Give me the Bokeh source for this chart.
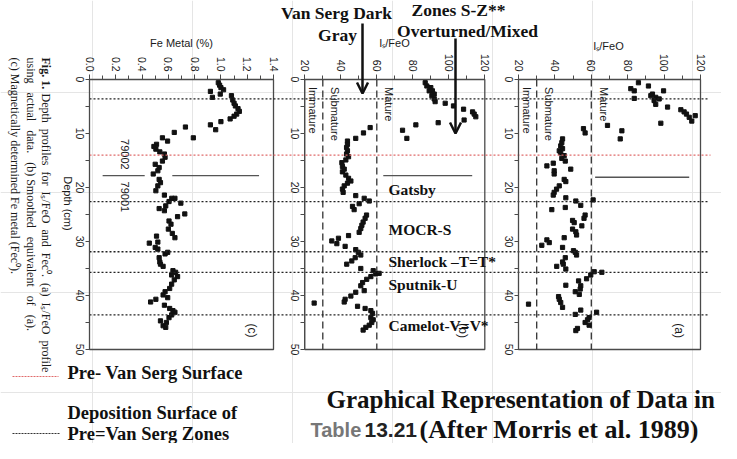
from math import pi
from bokeh.plotting import figure
from bokeh.models import Range1d, LinearAxis, FixedTicker, Arrow, OpenHead, PrintfTickFormatter
from bokeh.core.properties import value
from bokeh.embed import file_html
from bokeh.resources import INLINE

# ---------------- data ----------------
# Panel (c): Fe metal (%) vs depth (cm)
fe_metal = [0.98, 0.99, 1.00, 1.02, 0.92, 0.995, 0.935, 1.08, 1.09, 1.10, 1.11, 1.13, 1.14, 1.12, 1.10,
            1.07, 1.00, 0.92, 0.96, 0.73, 0.645, 0.79, 0.555, 0.594, 0.51, 0.49, 0.505, 0.535, 0.57,
            0.575, 0.555, 0.50, 0.53, 0.52, 0.485, 0.53, 0.54, 0.52, 0.505, 0.57, 0.626, 0.65, 0.605,
            0.695, 0.58, 0.53, 0.57, 0.725, 0.67, 0.605, 0.62, 0.60, 0.63, 0.65, 0.51, 0.455, 0.52,
            0.50, 0.52, 0.595, 0.575, 0.53, 0.535, 0.54, 0.56, 0.635, 0.655, 0.625, 0.67, 0.645, 0.625,
            0.61, 0.575, 0.56, 0.595, 0.505, 0.465, 0.57, 0.61, 0.635, 0.65, 0.625, 0.605, 0.54, 0.585,
            0.56, 0.58]
fe_depth = [0.6, 1.05, 1.5, 1.9, 2.2, 2.7, 3.3, 3.0, 3.8, 4.4, 4.9, 5.4, 5.9, 6.4, 6.8,
            7.3, 7.8, 8.4, 9.3, 8.8, 9.8, 10.8, 10.8, 11.4, 12.0, 12.4, 12.9, 13.4, 13.8,
            14.4, 15.1, 15.7, 16.3, 16.9, 17.5, 18.5, 19.1, 19.7, 20.6, 21.4, 22.0, 22.0, 22.6,
            22.9, 23.4, 23.9, 24.3, 24.9, 25.4, 26.2, 26.8, 27.7, 28.5, 29.3, 29.0, 30.3, 30.1,
            31.1, 31.4, 32.0, 32.3, 33.0, 33.8, 34.2, 34.6, 35.4, 35.7, 36.2, 36.5, 37.1, 37.9,
            38.7, 39.3, 39.9, 40.4, 40.7, 41.2, 41.8, 42.4, 42.8, 43.1, 43.6, 44.1, 44.7, 45.0,
            45.6, 45.9]

# Panel (b): smoothed Is/FeO vs depth
isb_val = [86.9, 87.8, 90.0, 90.9, 89.1, 91.9, 90.6, 91.9, 92.4, 98.0, 102.6, 108.2, 113.2, 114.1,
           115.0, 108.5, 94.1, 81.7, 74.3, 76.7,
           56.3, 52.6, 48.3, 43.7, 43.7, 43.2, 43.7, 43.2, 44.3, 42.8, 40.6, 40.9, 41.9, 40.9, 42.8,
           44.3, 45.6, 43.7, 41.9, 40.9, 41.3, 48.3, 53.0, 55.8, 50.2, 46.5, 47.4,
           54.3, 53.5, 52.4, 51.7, 51.1, 50.2, 44.3, 38.7, 35.0, 37.8, 42.4, 48.3, 49.7, 51.1, 48.0,
           46.1, 43.3, 51.1, 58.0, 61.3, 59.4, 56.7, 54.4, 52.1, 51.1, 53.0, 48.3, 45.6, 42.4, 41.9,
           25.2, 49.3, 53.5, 56.7, 57.6, 56.7, 58.0, 57.2, 55.8, 53.9, 52.4]
isb_depth = [0.6, 1.2, 1.5, 2.1, 2.1, 2.7, 3.0, 3.6, 4.1, 4.4, 4.9, 5.5, 6.0, 6.4,
             6.9, 7.5, 8.0, 8.4, 9.4, 10.9,
             8.9, 9.9, 10.9, 11.4, 12.0, 12.6, 13.2, 13.8, 14.3, 14.9, 15.4, 16.1, 16.6, 17.1, 17.7,
             18.3, 18.8, 19.2, 19.7, 20.3, 20.9, 21.5, 22.0, 22.5, 23.0, 23.5, 24.1,
             25.1, 25.7, 26.4, 27.0, 27.6, 28.3, 28.9, 29.4, 29.9, 30.4, 30.9, 31.5, 32.0, 32.5, 33.0,
             33.6, 34.2, 35.0, 35.4, 35.9, 36.0, 36.5, 37.0, 37.6, 38.2, 39.1, 39.4, 40.1, 40.7, 41.2,
             41.4, 42.0, 42.4, 42.8, 43.3, 44.1, 44.5, 45.0, 45.5, 45.9, 46.4]

# Panel (a): actual Is/FeO vs depth
isa_val = [85.9, 91.4, 81.7, 83.6, 99.7, 83.6, 92.7, 93.6, 95.4, 97.3, 94.5, 95.4, 101.9, 109.2,
           111.0, 112.3, 117.1, 113.8, 115.2, 98.2, 68.9, 76.8, 75.9, 55.7, 56.6,
           44.2, 43.8, 43.2, 44.2, 42.4, 43.2, 45.1, 43.8, 45.7, 39.1, 35.6, 48.7, 39.6, 39.6, 45.1,
           46.0, 42.4, 40.9, 39.6, 39.1, 46.0, 61.0, 51.5, 54.2, 45.7, 38.3, 56.6, 56.0, 49.7, 50.6,
           54.8, 49.7, 51.5, 51.9, 45.1, 35.6, 36.9, 32.8, 44.2, 50.2, 51.2, 51.9, 45.7, 44.2, 44.6,
           41.0, 46.0, 61.6, 65.8, 59.7, 57.4, 53.0, 46.0, 54.2, 53.9, 51.2, 53.4, 42.0, 42.4, 43.2,
           25.5, 44.2, 54.2, 62.9, 51.2, 58.8, 57.9, 56.6, 58.8, 52.4, 51.5]
isa_depth = [0.6, 1.2, 1.7, 2.1, 2.1, 3.5, 3.0, 2.7, 3.3, 3.6, 3.9, 4.6, 5.1, 5.6,
             6.0, 6.4, 6.7, 7.0, 7.7, 8.1, 8.5, 9.5, 11.0, 9.1, 9.9,
             11.0, 11.7, 12.3, 12.8, 13.2, 13.6, 14.1, 14.6, 15.1, 15.5, 16.0, 16.6, 16.9, 17.5, 18.5,
             18.9, 19.7, 20.3, 20.9, 21.4, 21.9, 22.3, 22.5, 23.3, 23.7, 24.1, 25.1, 25.7, 26.1, 26.5,
             27.1, 27.7, 28.2, 28.8, 29.3, 29.7, 30.2, 30.7, 31.1, 31.7, 32.0, 32.5, 33.0, 33.8, 34.2,
             34.6, 35.1, 35.6, 35.7, 36.2, 36.9, 37.3, 38.1, 38.2, 38.8, 39.3, 39.8, 40.2, 40.7, 41.3,
             41.6, 42.2, 42.7, 43.1, 43.5, 44.1, 44.5, 45.0, 45.5, 46.1, 46.5]

zone_depths = [3.6, 22.6, 31.9, 35.7, 43.6]        # deposition surfaces of pre-Van Serg zones
van_serg_surface = [14.0]                            # pre-Van Serg surface
core_boundary = 17.8                                 # 79002 / 79001 boundary
maturity_limits = [30, 60]
maturity_names = ["Immature", "Submature", "Mature"]
zone_names = ["Gatsby", "MOCR-S", "Sherlock \u2013T=T*", "Sputnik-U", "Camelot-V=V*"]
zone_label_depths = [20.4, 27.8, 33.7, 38.0, 45.6]

fe_ticks = [0.0, 0.2, 0.4, 0.6, 0.8, 1.0, 1.2, 1.4]
is_ticks = [20, 40, 60, 80, 100, 120]
depth_ticks = [0, 10, 20, 30, 40, 50]

# ---------------- layout ----------------
W, H = 721, 443
PX0, PX1, PY0, PY1 = 8, 729, 8, 451   # screen pixel extent of the figure
D0_Y, D_SCALE = 87, 5.4               # depth 0 at y=87, 5.4 px / cm


def lin_range(p0, v0, p1, v1):
    s = (p1 - p0) / (v1 - v0)
    return Range1d(start=v0 + (PX0 - p0) / s, end=v0 + (PX1 - p0) / s)


p = figure(width=W, height=H, x_range=Range1d(PX0, PX1), y_range=Range1d(PY1, PY0),
           output_backend="svg", toolbar_location=None, x_axis_location=None, y_axis_location=None,
           min_border=0, outline_line_color=None, background_fill_color="white")
p.extra_x_ranges = {"fe": lin_range(97, 0.0, 281, 1.4),
                    "isb": lin_range(312.3, 20, 492.3, 120),
                    "isa": lin_range(526, 20, 708, 120)}
p.extra_y_ranges = {"depth": Range1d(start=(PY1 - D0_Y) / D_SCALE, end=(PY0 - D0_Y) / D_SCALE)}

INK = "#1a1a1a"
FRAME = "#4a4a4a"
SANS = value("Liberation Sans")
SERIF = value("Liberation Serif")

panels = [
    dict(name="fe", lo=0.0, hi=1.4, ticks=fe_ticks, minor=[0.1 + 0.2 * i for i in range(7)],
         fmt="%.1f", title="Fe Metal (%)", title_x=189, title_y=50, tag="(c)"),
    dict(name="isb", lo=20, hi=120, ticks=is_ticks, minor=[30, 50, 70, 90, 110],
         fmt="%d", title="I\u209b/FeO", title_x=402, title_y=50, tag="(b)"),
    dict(name="isa", lo=20, hi=120, ticks=is_ticks, minor=[30, 50, 70, 90, 110],
         fmt="%d", title="I\u209b/FeO", title_x=616, title_y=53, tag="(a)"),
]

for pn in panels:
    nm = pn["name"]
    # frame box
    p.quad(left=[pn["lo"]], right=[pn["hi"]], top=[0], bottom=[50], fill_color=None,
           line_color=FRAME, line_width=1.3, x_range_name=nm, y_range_name="depth")
    # top axis
    ax = LinearAxis(x_range_name=nm, y_range_name="depth", fixed_location=0,
                    bounds=(pn["lo"], pn["hi"]),
                    ticker=FixedTicker(ticks=pn["ticks"], minor_ticks=pn["minor"]),
                    formatter=PrintfTickFormatter(format=pn["fmt"]),
                    major_label_orientation=-pi / 2, major_label_standoff=3,
                    major_label_text_font="Liberation Sans", major_label_text_font_size="10.5px",
                    major_label_text_color=INK,
                    axis_line_color=FRAME, major_tick_line_color=FRAME, minor_tick_line_color=FRAME,
                    major_tick_out=5, major_tick_in=0, minor_tick_out=4, minor_tick_in=0)
    p.add_layout(ax, "above")
    # depth axis: tick marks only (as minor ticks); its labels are drawn as text below
    ay = LinearAxis(x_range_name=nm, y_range_name="depth", fixed_location=pn["lo"], bounds=(0, 50),
                    ticker=FixedTicker(ticks=[], minor_ticks=[0, 5, 10, 15, 20, 25, 30, 35, 40, 45, 50]),
                    axis_line_color=FRAME, major_tick_line_color=FRAME, minor_tick_line_color=FRAME,
                    major_tick_out=5, major_tick_in=0, minor_tick_out=4, minor_tick_in=0)
    p.add_layout(ay, "left")
    p.text(x=[pn["lo"]] * len(depth_ticks), y=depth_ticks, text=[str(d) for d in depth_ticks],
           x_range_name=nm, y_range_name="depth", x_offset=-10, angle=-pi / 2,
           text_align="center", text_baseline="middle", text_font=SANS,
           text_font_size="10.5px", text_color=INK)
    # axis title
    p.text(x=[pn["title_x"]], y=[pn["title_y"]], text=[pn["title"]], text_align="center",
           text_baseline="middle", text_font=SANS, text_font_size="11px", text_color=INK)
    # panel tag
    p.text(x=[pn["hi"]], y=[46.5], text=[pn["tag"]], x_range_name=nm, y_range_name="depth",
           x_offset=-22, angle=-pi / 2, text_align="center", text_baseline="middle",
           text_font=SANS, text_font_size="12px", text_color=INK)

# maturity fields in (b) and (a)
for nm in ["isb", "isa"]:
    for lim in maturity_limits:
        p.segment(x0=[lim], x1=[lim], y0=[0], y1=[50], x_range_name=nm, y_range_name="depth",
                  line_color="#333333", line_width=1.3, line_dash="7 4")
    p.text(x=[24.6, 36.6, 66.8], y=[1.4, 1.4, 1.4], text=maturity_names, x_range_name=nm,
           y_range_name="depth", angle=-pi / 2, text_align="left", text_baseline="middle",
           text_font=SANS, text_font_size="11px", text_color=INK)

# core boundary lines and core numbers
p.segment(x0=[0.10, 0.63], x1=[0.42, 1.29], y0=[core_boundary] * 2, y1=[core_boundary] * 2,
          x_range_name="fe", y_range_name="depth", line_color="#555555", line_width=1.3)
p.segment(x0=[63.6], x1=[113], y0=[core_boundary], y1=[core_boundary],
          x_range_name="isb", y_range_name="depth", line_color="#555555", line_width=1.3)
p.segment(x0=[62.1], x1=[113.8], y0=[core_boundary + 0.3], y1=[core_boundary + 0.3],
          x_range_name="isa", y_range_name="depth", line_color="#555555", line_width=1.3)
p.text(x=[0.27, 0.27], y=[core_boundary - 1.1, core_boundary + 1.1], text=["79002", "79001"],
       x_range_name="fe", y_range_name="depth", angle=-pi / 2,
       text_align=["right", "left"], text_baseline="middle",
       text_font=SANS, text_font_size="11px", text_color=INK)

# data points
p.scatter(x=fe_metal, y=fe_depth, marker="square", size=4.2, color="#111111",
          x_range_name="fe", y_range_name="depth")
p.scatter(x=isb_val, y=isb_depth, marker="square", size=4.2, color="#111111",
          x_range_name="isb", y_range_name="depth")
p.scatter(x=isa_val, y=isa_depth, marker="square", size=4.2, color="#111111",
          x_range_name="isa", y_range_name="depth")

# horizontal marker lines across all panels
n = len(zone_depths)
p.segment(x0=[97] * n, x1=[716] * n, y0=zone_depths, y1=zone_depths, y_range_name="depth",
          line_color="#222222", line_width=1.3, line_dash="2 2")
p.segment(x0=[97], x1=[718], y0=van_serg_surface, y1=van_serg_surface, y_range_name="depth",
          line_color="#e06a6a", line_width=1.3, line_dash="2 2")

# caption (rotated, left); non-breaking spaces imitate the justified setting
NB = " \u00a0"
cap_font = "12px"
p.text(x=[53], y=[65], text=["Fig. 1."], angle=-pi / 2, text_align="left", text_baseline="middle",
       text_font=SERIF, text_font_style="bold", text_font_size=cap_font, text_color=INK)
p.text(x=[53, 38, 22], y=[101, 65, 65],
       text=[NB.join(["Depth", "profiles", "for", "I\u209b/FeO", "and", "Fec\u2070.", "(a)",
                      "I\u209b/FeO", "profile"]),
             (NB + "\u00a0").join(["using", "actual", "data.", "(b) Smoothed", "equivalent", "of", "(a)."]),
             "(c) Magnetically determined Fe metal (Fec\u2070)."],
       angle=-pi / 2, text_align="left", text_baseline="middle",
       text_font=SERIF, text_font_size=cap_font, text_color=INK)
p.text(x=[75], y=[211], text=["Depth (cm)"], angle=-pi / 2, text_align="center",
       text_baseline="middle", text_font=SANS, text_font_size="11px", text_color=INK)

# annotations
BOLD_SERIF = dict(text_font=SERIF, text_font_style="bold", text_color="#111111")
p.text(x=[344, 345], y=[20, 42], text=["Van Serg Dark", "Gray"], text_align="center",
       text_baseline="middle", text_font_size="17.5px", **BOLD_SERIF)
p.text(x=[466, 475], y=[17, 38], text=["Zones S-Z**", "Overturned/Mixed"], text_align="center",
       text_baseline="middle", text_font_size="17.5px", **BOLD_SERIF)
p.add_layout(Arrow(x_start=370, y_start=31, x_end=370, y_end=101, line_width=2.5, line_color="#111111",
                   end=OpenHead(size=11, line_width=2.5, line_color="#111111")))
p.add_layout(Arrow(x_start=463, y_start=46, x_end=463, y_end=141, line_width=2.5, line_color="#111111",
                   end=OpenHead(size=11, line_width=2.5, line_color="#111111")))
p.text(x=[396] * len(zone_names), y=zone_label_depths, text=zone_names, y_range_name="depth",
       text_align="left", text_baseline="middle", text_font_size="15.5px", **BOLD_SERIF)

# bottom legend and title
p.segment(x0=[20], x1=[66], y0=[384], y1=[384], line_color="#e06a6a", line_width=1.2, line_dash="2 1")
p.segment(x0=[20], x1=[68], y0=[441], y1=[441], line_color="#333333", line_width=1.2, line_dash="2 1")
p.text(x=[75, 75, 75], y=[380, 420, 441],
       text=["Pre- Van Serg Surface", "Deposition Surface of", "Pre=Van Serg Zones"],
       text_align="left", text_baseline="middle", text_font_size="18.5px", **BOLD_SERIF)
p.text(x=[334], y=[407], text=["Graphical Representation of Data in"], text_align="left",
       text_baseline="middle", text_font_size="25px", **BOLD_SERIF)
p.text(x=[318], y=[437], text=["Table"], text_align="left", text_baseline="middle",
       text_font=SANS, text_font_style="bold", text_font_size="20px", text_color="#777777")
p.text(x=[372], y=[437], text=["13.21"], text_align="left", text_baseline="middle",
       text_font=SANS, text_font_style="bold", text_font_size="21px", text_color="#222222")
p.text(x=[427], y=[437], text=["(After Morris et al. 1989)"], text_align="left",
       text_baseline="middle", text_font_size="26px", **BOLD_SERIF)

open("out.html", "w").write(file_html(p, INLINE))
